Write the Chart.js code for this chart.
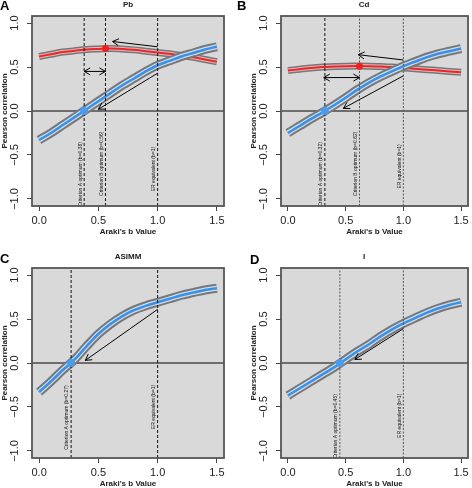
<!DOCTYPE html>
<html>
<head>
<meta charset="utf-8">
<script src="https://cdn.jsdelivr.net/npm/chart.js@4.4.0/dist/chart.umd.min.js"></script>
<style>
  html, body { margin: 0; padding: 0; background: #fff; overflow: hidden; }
  #wrap { position: relative; width: 472px; height: 488px; overflow: hidden; }
  .panel { position: absolute; width: 236px; height: 252px; }
</style>
</head>
<body>
<div id="wrap">
  <div class="panel" style="left:0;top:0"><canvas id="pa" width="236" height="252"></canvas></div>
  <div class="panel" style="left:236px;top:0"><canvas id="pb" width="236" height="252"></canvas></div>
  <div class="panel" style="left:0;top:252px"><canvas id="pc" width="236" height="252"></canvas></div>
  <div class="panel" style="left:236px;top:252px"><canvas id="pd" width="236" height="252"></canvas></div>
</div>
<script>
// Araki's b values along the x axis
const bValues = [0, 0.1, 0.2, 0.3, 0.4, 0.5, 0.6, 0.7, 0.8, 0.9, 1.0, 1.1, 1.2, 1.3, 1.4, 1.5];
const xTicks = [0, 0.5, 1, 1.5];
const yTicks = [-1, -0.5, 0, 0.5, 1];

// Pb
const pbBlue = [-0.33, -0.25, -0.16, -0.07, 0.02, 0.11, 0.20, 0.29, 0.37, 0.45, 0.52, 0.57, 0.62, 0.66, 0.70, 0.73];
const pbRed = [0.62, 0.645, 0.67, 0.685, 0.70, 0.705, 0.71, 0.705, 0.695, 0.68, 0.665, 0.65, 0.63, 0.61, 0.585, 0.56];
const pbLines = [0.38, 0.56, 1];
const pbLabels = ["Criterion A optimum (b=0.38)", "Criterion B optimum (b=0.56)", "ER equivalent (b=1)"];
const pbLabelY = [-0.72, -0.6, -0.66];
const pbOptA = [0.38, 0];
const pbOptB = [0.56, 0.71];
const pbArrows = [[1.0, 0.43, 0.50, 0.02, 1], [1.0, 0.73, 0.62, 0.79, 1], [0.38, 0.45, 0.56, 0.45, 2]];

// Cd
const cdBlue = [-0.25, -0.17, -0.09, -0.015, 0.065, 0.15, 0.24, 0.32, 0.39, 0.45, 0.51, 0.56, 0.61, 0.65, 0.68, 0.71];
const cdRed = [0.46, 0.475, 0.49, 0.50, 0.505, 0.51, 0.512, 0.51, 0.505, 0.50, 0.49, 0.48, 0.47, 0.46, 0.45, 0.44];
const cdLines = [0.32, 0.62, 1];
const cdLabels = ["Criterion A optimum (b=0.32)", "Criterion B optimum (b=0.62)", "ER equivalent (b=1)"];
const cdLabelY = [-0.72, -0.6, -0.63];
const cdOptA = [0.32, 0];
const cdOptB = [0.62, 0.51];
const cdArrows = [[1.0, 0.40, 0.48, 0.03, 1], [1.0, 0.58, 0.61, 0.64, 1], [0.31, 0.38, 0.62, 0.38, 2]];

// ASIMM
const asimmBlue = [-0.33, -0.21, -0.08, 0.04, 0.19, 0.33, 0.44, 0.53, 0.60, 0.65, 0.69, 0.73, 0.77, 0.80, 0.83, 0.85];
const asimmLines = [0.27, 1];
const asimmLabels = ["Criterion A optimum (b=0.27)", "ER equivalent (b=1)"];
const asimmLabelY = [-0.62, -0.5];
const asimmOptA = [0.27, 0];
const asimmArrows = [[1.0, 0.61, 0.39, 0.03, 1]];

// I
const iBlue = [-0.37, -0.29, -0.21, -0.13, -0.05, 0.04, 0.13, 0.21, 0.30, 0.38, 0.45, 0.51, 0.57, 0.62, 0.66, 0.69];
const iLines = [0.45, 1];
const iLabels = ["Criterion A optimum (b=0.45)", "ER equivalent (b=1)"];
const iLabelY = [-0.72, -0.6];
const iOptA = [0.45, 0];
const iArrows = [[1.0, 0.39, 0.58, 0.04, 1]];

const FONT = "'Liberation Sans', Arial, sans-serif";
const BLUE = '#3b8fe5', BLUE_IN = '#c9dcf0';
const RED = '#e8262c', RED_IN = '#e8b6b6';
const GRAY = '#777777';

const fmt = (v) => Number(v).toFixed(1).replace('-', '\u2212');
const pts = (ys) => bValues.map((x, i) => ({ x: x, y: ys[i] }));

function curveSets(ys, color, inner, outerW, innerW, lineW) {
  const base = { data: pts(ys), pointRadius: 0, cubicInterpolationMode: 'monotone', fill: false, clip: 0 };
  return [
    Object.assign({}, base, { borderColor: GRAY, borderWidth: outerW }),
    Object.assign({}, base, { borderColor: inner, borderWidth: innerW }),
    Object.assign({}, base, { borderColor: color, borderWidth: lineW })
  ];
}

function buildDatasets(p) {
  let sets = [];
  sets.push({ data: [{ x: -0.06, y: 0 }, { x: 1.56, y: 0 }], borderColor: '#4a4a4a', borderWidth: 1.5, pointRadius: 0, clip: 0 });
  if (p.red) sets = sets.concat(curveSets(p.red, RED, RED_IN, 7, 4, 2));
  sets = sets.concat(curveSets(p.blue, BLUE, BLUE_IN, 9, 5, 2.5));
  p.lines.forEach((v, i) => {
    const gray = p.lineGray[i];
    sets.push({
      data: [{ x: v, y: -1.08 }, { x: v, y: 1.08 }],
      borderColor: gray ? '#555' : '#111', borderWidth: 1,
      borderDash: gray ? [2, 1.5] : [3, 2], pointRadius: 0, clip: 0
    });
  });
  sets.push({ data: [{ x: p.optA[0], y: p.optA[1] }], showLine: false, pointRadius: 4, pointBackgroundColor: '#4a9bee', pointBorderWidth: 0 });
  if (p.optB) sets.push({ data: [{ x: p.optB[0], y: p.optB[1] }], showLine: false, pointRadius: 3.5, pointBackgroundColor: '#ee2020', pointBorderWidth: 0 });
  const n = sets.length;
  sets.forEach((s, i) => { s.order = n - i; });
  return sets;
}

function drawHead(ctx, x0, y0, x1, y1) {
  const len = 7, ang = Math.PI / 6;
  const t = Math.atan2(y1 - y0, x1 - x0);
  ctx.beginPath();
  ctx.moveTo(x1 - len * Math.cos(t - ang), y1 - len * Math.sin(t - ang));
  ctx.lineTo(x1, y1);
  ctx.lineTo(x1 - len * Math.cos(t + ang), y1 - len * Math.sin(t + ang));
  ctx.stroke();
}

const decor = {
  id: 'decor',
  beforeDraw(chart) {
    const { ctx, chartArea: a } = chart;
    ctx.save();
    ctx.fillStyle = '#d9d9d9';
    ctx.fillRect(a.left, a.top, a.width, a.height);
    ctx.restore();
  },
  afterDatasetsDraw(chart, args, p) {
    const { ctx } = chart;
    const xs = chart.scales.x, ys = chart.scales.y;
    ctx.save();
    // labels on the dashed lines
    ctx.fillStyle = '#111';
    ctx.font = '5px ' + FONT;
    p.lines.forEach((v, i) => {
      ctx.save();
      ctx.translate(xs.getPixelForValue(v) - 1.5, ys.getPixelForValue(p.labelY[i]));
      ctx.rotate(-Math.PI / 2);
      ctx.textAlign = 'center';
      ctx.textBaseline = 'bottom';
      ctx.fillText(p.labels[i], 0, 0);
      ctx.restore();
    });
    // arrows
    ctx.strokeStyle = '#000';
    ctx.lineWidth = 1;
    p.arrows.forEach((a) => {
      const x0 = xs.getPixelForValue(a[0]), y0 = ys.getPixelForValue(a[1]);
      const x1 = xs.getPixelForValue(a[2]), y1 = ys.getPixelForValue(a[3]);
      ctx.beginPath(); ctx.moveTo(x0, y0); ctx.lineTo(x1, y1); ctx.stroke();
      drawHead(ctx, x0, y0, x1, y1);
      if (a[4] === 2) drawHead(ctx, x1, y1, x0, y0);
    });
    ctx.restore();
  },
  afterDraw(chart, args, p) {
    const { ctx, chartArea: a } = chart;
    ctx.save();
    ctx.strokeStyle = '#555';
    ctx.lineWidth = 1.8;
    ctx.strokeRect(a.left, a.top, a.width, a.height);
    ctx.fillStyle = '#222';
    ctx.font = 'bold 8px ' + FONT;
    ctx.textAlign = 'center';
    ctx.textBaseline = 'middle';
    ctx.fillText(p.title, 128, 5);
    ctx.fillStyle = '#000';
    ctx.font = 'bold 13px ' + FONT;
    ctx.textAlign = 'left';
    ctx.textBaseline = 'alphabetic';
    ctx.fillText(p.letter, p.letterPos[0], p.letterPos[1]);
    ctx.restore();
  }
};

function makeChart(id, p) {
  const tickFont = { family: FONT, size: 11 };
  const titleFont = { family: FONT, size: 8, weight: 'bold' };
  new Chart(document.getElementById(id), {
    type: 'line',
    data: { datasets: buildDatasets(p) },
    options: {
      responsive: false,
      animation: false,
      layout: { padding: { left: p.padLeft, right: p.padRight, top: 16, bottom: 0 } },
      plugins: { legend: { display: false }, tooltip: { enabled: false }, decor: p },
      scales: {
        x: {
          type: 'linear', min: -0.06, max: 1.56,
          afterBuildTicks: (s) => { s.ticks = xTicks.map((v) => ({ value: v })); },
          afterFit: (s) => { s.height = 46; },
          grid: { drawOnChartArea: false, tickLength: 5, color: '#444' },
          border: { display: false },
          ticks: { font: tickFont, color: '#222', padding: 3, maxRotation: 0, autoSkip: false, callback: fmt },
          title: { display: true, text: "Araki's b Value", font: titleFont, color: '#222', padding: { top: 0, bottom: 15 } }
        },
        y: {
          type: 'linear', min: -1.08, max: 1.08,
          afterBuildTicks: (s) => { s.ticks = yTicks.map((v) => ({ value: v })); },
          afterFit: (s) => { s.width = 32; },
          grid: { drawOnChartArea: false, tickLength: 5, color: '#444' },
          border: { display: false },
          ticks: { font: tickFont, color: '#222', padding: 1, minRotation: 90, maxRotation: 90, crossAlign: 'center', autoSkip: false, callback: fmt },
          title: { display: true, text: 'Pearson correlation', font: titleFont, color: '#222', padding: { top: 0, bottom: 0 } }
        }
      }
    },
    plugins: [decor]
  });
}

makeChart('pa', { title: 'Pb', letter: 'A', letterPos: [0, 10], padLeft: 0, padRight: 12,
  blue: pbBlue, red: pbRed, lines: pbLines, lineGray: [0, 0, 0], labels: pbLabels, labelY: pbLabelY,
  optA: pbOptA, optB: pbOptB, arrows: pbArrows });
makeChart('pb', { title: 'Cd', letter: 'B', letterPos: [1, 10], padLeft: 13, padRight: 0,
  blue: cdBlue, red: cdRed, lines: cdLines, lineGray: [0, 1, 1], labels: cdLabels, labelY: cdLabelY,
  optA: cdOptA, optB: cdOptB, arrows: cdArrows });
makeChart('pc', { title: 'ASIMM', letter: 'C', letterPos: [0, 11], padLeft: 0, padRight: 12,
  blue: asimmBlue, red: null, lines: asimmLines, lineGray: [0, 0], labels: asimmLabels, labelY: asimmLabelY,
  optA: asimmOptA, optB: null, arrows: asimmArrows });
makeChart('pd', { title: 'I', letter: 'D', letterPos: [14, 12], padLeft: 13, padRight: 0,
  blue: iBlue, red: null, lines: iLines, lineGray: [1, 1], labels: iLabels, labelY: iLabelY,
  optA: iOptA, optB: null, arrows: iArrows });
</script>
</body>
</html>
